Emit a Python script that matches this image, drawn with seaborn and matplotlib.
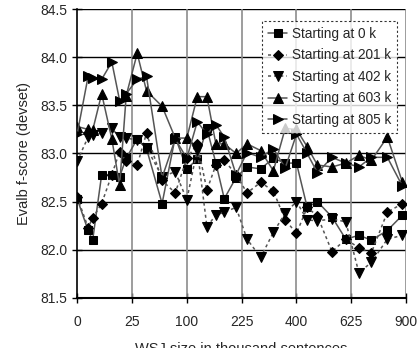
import numpy as np
import pandas as pd
import matplotlib
matplotlib.use("Agg")
import matplotlib.pyplot as plt
import seaborn as sns

# WSJ size in thousand sentences (x positions shared by all runs)
sizes = [0, 1, 2, 5, 10, 15, 20, 30, 40, 60, 80, 100, 120, 140, 160, 180,
         210, 240, 280, 320, 360, 400, 440, 480, 540, 600, 660, 720, 800, 880]

start_0k = [82.53, 82.20, 82.10, 82.78, 82.78, 82.76, 82.95, 83.15, 83.05, 82.48,
            83.17, 82.84, 82.94, 83.26, 82.90, 82.53, 82.75, 82.86, 82.84, 82.95,
            82.90, 82.90, 82.44, 82.50, 82.34, 82.11, 82.15, 82.10, 82.20, 82.36]
start_201k = [82.55, 82.23, 82.33, 82.48, 82.78, 83.02, 82.92, 82.88, 83.21, 82.72,
              82.59, 82.95, 83.10, 82.62, 82.88, 82.93, 82.78, 82.59, 82.70, 82.61,
              82.31, 82.17, 82.44, 82.35, 81.98, 82.11, 82.02, 81.97, 82.39, 82.48]
start_402k = [82.92, 83.17, 83.19, 83.21, 83.26, 83.17, 83.16, 83.14, 83.06, 82.76,
              82.81, 82.52, 83.04, 82.24, 82.36, 82.39, 82.44, 82.11, 81.92, 82.18,
              82.38, 82.50, 82.31, 82.30, 82.32, 82.29, 81.76, 81.87, 82.11, 82.15]
start_603k = [83.28, 83.25, 83.24, 83.62, 83.15, 82.67, 83.60, 84.04, 83.65, 83.49,
              83.16, 83.16, 83.59, 83.59, 83.10, 83.10, 83.00, 83.10, 83.03, 82.82,
              83.26, 83.25, 83.07, 82.88, 82.86, 82.90, 82.98, 82.93, 83.17, 82.70]
start_805k = [83.20, 83.80, 83.78, 83.77, 83.95, 83.55, 83.62, 83.77, 83.80, 82.75,
              83.15, 82.95, 83.33, 83.20, 83.30, 83.17, 82.78, 83.01, 82.96, 83.05,
              82.85, 83.20, 83.00, 82.80, 82.96, 82.90, 82.86, 82.96, 82.96, 82.66]

labels = ["Starting at 0 k", "Starting at 201 k", "Starting at 402 k",
          "Starting at 603 k", "Starting at 805 k"]
series = [start_0k, start_201k, start_402k, start_603k, start_805k]
markers = ["s", "D", "v", "^", ">"]
msizes = [6, 5, 6.5, 6.5, 6.5]
styles = ["-", (0, (2, 2)), (0, (2, 2)), "-", "-"]

xticks = [0, 25, 100, 225, 400, 625, 900]
yticks = [81.5, 82.0, 82.5, 83.0, 83.5, 84.0, 84.5]

sns.set_style("white")
plt.rcParams['font.family'] = ['Liberation Sans', 'DejaVu Sans']

fig = plt.figure(figsize=(4.17, 3.48), dpi=100)
ax = fig.add_axes([0.185, 0.144, 0.789, 0.830])

for lab, vals, m, ms, ls in zip(labels, series, markers, msizes, styles):
    sns.lineplot(x=sizes, y=vals, ax=ax, label=lab, color="#555555",
                 linestyle=ls, linewidth=1.1, marker=m, markersize=ms,
                 markerfacecolor="black", markeredgecolor="black", zorder=3)

ax.set_xscale('function', functions=(lambda v: np.sqrt(np.clip(v, 0, None)), np.square))
ax.set_xlim(0, 900)
ax.set_ylim(81.5, 84.5)
ax.set_xticks(xticks)
ax.set_xticklabels([str(t) for t in xticks])
ax.set_yticks(yticks)
ax.set_yticklabels([f"{t:.1f}" for t in yticks])

for y in yticks:
    ax.axhline(y, color="black", linewidth=1.0, zorder=1)
for xv in xticks[1:]:
    ax.axvline(xv, color="#8c8c8c", linewidth=1.2, zorder=1)

for side in ["top", "right"]:
    ax.spines[side].set_visible(False)
ax.spines["left"].set_color("black")
ax.spines["bottom"].set_color("black")
ax.spines["left"].set_linewidth(1.2)
ax.spines["bottom"].set_linewidth(1.5)

ax.tick_params(axis="both", direction="inout", length=7, width=1,
               color="black", labelsize=10, bottom=True, left=True)
ax.tick_params(axis="x", pad=9)

ax.set_xlabel("WSJ size in thousand sentences", fontsize=10.5, labelpad=9)
ax.set_ylabel("Evalb f-score (devset)", fontsize=10.5, labelpad=7)

leg = ax.legend(loc="upper right", bbox_to_anchor=(0.993, 0.983), fontsize=9.8,
                frameon=True, fancybox=False, handlelength=1.4,
                handletextpad=0.3, borderpad=0.45, labelspacing=0.55)
leg.get_frame().set_edgecolor("black")
leg.get_frame().set_linestyle((0, (2, 2)))
leg.get_frame().set_linewidth(0.8)
leg.set_zorder(5)

fig.savefig("out.png", dpi=100)
